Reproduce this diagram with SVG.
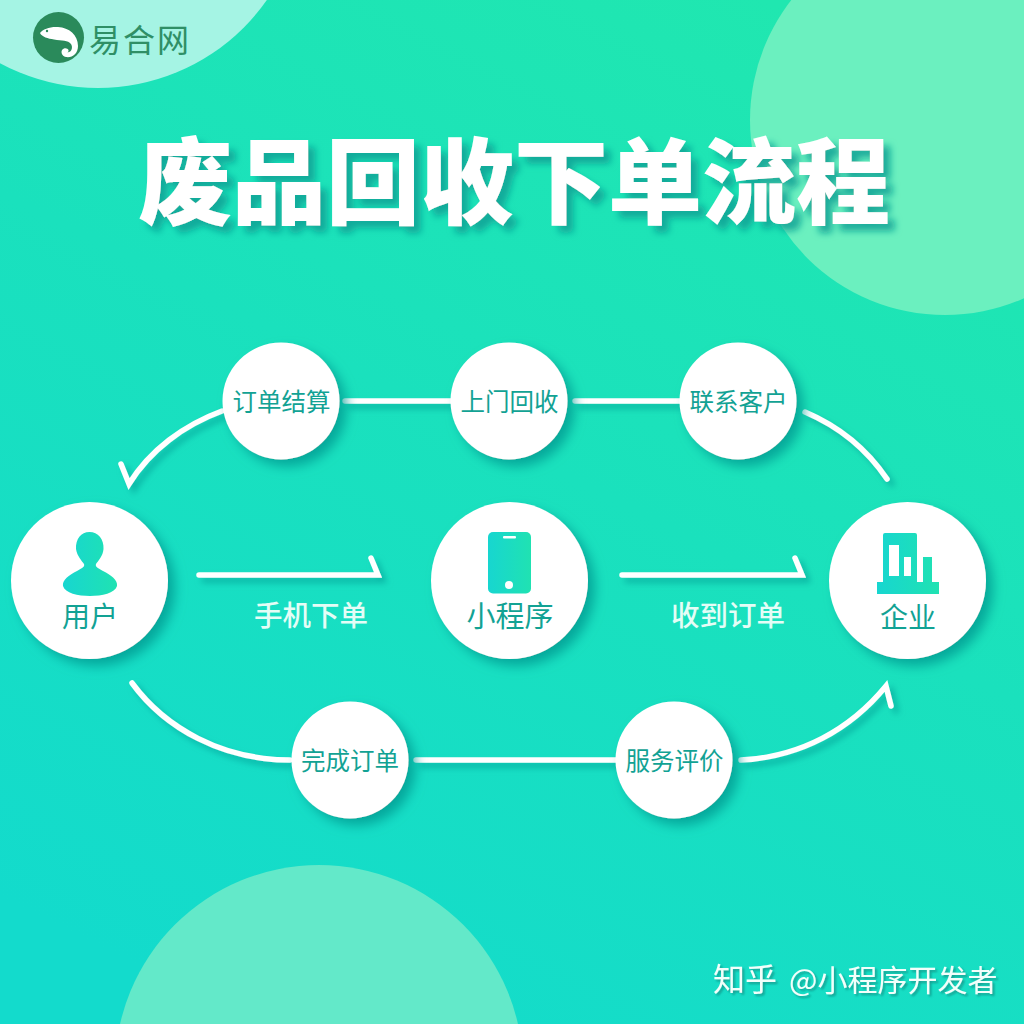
<svg xmlns="http://www.w3.org/2000/svg" width="1024" height="1024" viewBox="0 0 1024 1024">
<style>
.lbl{font-family:"Noto Sans CJK SC","Noto Sans",sans-serif;text-anchor:middle;fill:#12a294;font-weight:400}
.wt{font-family:"Noto Sans CJK SC","Noto Sans",sans-serif;text-anchor:middle;fill:#e4fdf6;font-weight:500}
.conn{fill:none;stroke:#fff;stroke-width:5.500;stroke-linecap:round;stroke-linejoin:miter}
.disc{fill:#fff}
</style>
<defs>
<linearGradient id="bg" x1="0.75" y1="0" x2="0.25" y2="1"><stop offset="0" stop-color="#20e7b0"/><stop offset="0.45" stop-color="#1ae1bd"/><stop offset="1" stop-color="#13dbcc"/></linearGradient>
<linearGradient id="ic" x1="0" y1="0" x2="1" y2="0"><stop offset="0" stop-color="#17d6d0"/><stop offset="1" stop-color="#20e2b2"/></linearGradient>
<filter id="sh" x="-30%" y="-30%" width="170%" height="170%"><feDropShadow dx="7" dy="7" stdDeviation="6" flood-color="#049a92" flood-opacity=".8"/></filter>
<filter id="lsh" x="-10%" y="-60%" width="125%" height="260%"><feDropShadow dx="5" dy="5" stdDeviation="3" flood-color="#049a92" flood-opacity=".6"/></filter>
<filter id="tsh" x="-5%" y="-20%" width="110%" height="150%"><feDropShadow dx="7" dy="7" stdDeviation="3.500" flood-color="#07a094" flood-opacity=".85"/></filter>
<filter id="wsh" x="-5%" y="-20%" width="110%" height="150%"><feDropShadow dx="2" dy="2" stdDeviation="1" flood-color="#07857c" flood-opacity=".7"/></filter>
</defs>
<rect width="1024" height="1024" fill="url(#bg)"/>
<circle cx="98" cy="-118" r="206" fill="#a5f4e4"/>
<circle cx="945" cy="120" r="195" fill="#6bf0bf"/>
<circle cx="319" cy="1069" r="204" fill="#63e9c9"/>
<g id="logo">
<circle cx="58.500" cy="37.500" r="25.500" fill="#2a8a5b"/>
<path d="M40 33C43 29 50 26.500 58 27C69 27.500 78 35 78 46C78 54 72 58 66 57C61 56 60 50 64 48.500C68 47.500 70 51 67.500 52.500C72 52 73 47 71 44C68 40 62 41 54 39.500C48 38.500 42 37 40 33Z" fill="#fff"/>
<circle cx="47" cy="31" r="1.200" fill="#2a8a5b"/>
<text x="140" y="52" font-family="'Noto Sans CJK SC',sans-serif" font-size="32" letter-spacing="2" text-anchor="middle" fill="#2f8f66">易合网</text>
</g>
<text id="title" x="514" y="217" font-family="'Noto Sans CJK SC',sans-serif" font-size="94" font-weight="900" text-anchor="middle" fill="#fff" filter="url(#tsh)">废品回收下单流程</text>
<g id="connectors" filter="url(#lsh)">
<path class="conn" d="M222 411C184 425 150 450 129 484L121 464"/>
<path class="conn" d="M345 401H452"/>
<path class="conn" d="M575 401H682"/>
<path class="conn" d="M805 412C838 426 866 448 887 479"/>
<path class="conn" d="M199 575H378L371 558"/>
<path class="conn" d="M622 575H802L795 558"/>
<path class="conn" d="M132 683C165 728 222 760 290 760"/>
<path class="conn" d="M416 760H616"/>
<path class="conn" d="M741 760C800 757 850 730 886 686L891 706"/>
</g>
<g id="user">
<circle class="disc" cx="89.500" cy="580.500" r="78.500" filter="url(#sh)"/>
<path fill="url(#ic)" d="M89.500 532C98 532 104 539 103.500 549C103 556 98 561 96 564C95 567 98 568 103 571C111 575 118 580 117 586C115 593 102 596 90 596C78 596 65 593 63 586C62 580 69 575 77 571C82 568 85 567 84 564C82 561 77 556 76 549C75.500 539 81 532 89.500 532Z"/>
<text class="lbl" x="90" y="627" font-size="28">用户</text>
</g>
<g id="miniapp">
<circle class="disc" cx="509.500" cy="580.500" r="78.500" filter="url(#sh)"/>
<rect x="488" y="532" width="43" height="61.500" rx="5" fill="url(#ic)"/>
<rect x="503" y="536" width="13" height="2.500" rx="1" fill="#fff"/>
<circle cx="509" cy="585" r="4" fill="#fff"/>
<text class="lbl" x="510" y="627" font-size="29">小程序</text>
</g>
<g id="enterprise">
<circle class="disc" cx="907.500" cy="580.500" r="78.500" filter="url(#sh)"/>
<path fill="url(#ic)" fill-rule="evenodd" d="M885 533H915Q917 533 917 535V582H923V557H932V582H939V594H877V582H883V535Q883 533 885 533ZM889 545V576H899V545ZM904 557V576H911V557Z"/>
<text class="lbl" x="908" y="628" font-size="28">企业</text>
</g>
<g id="n-settle"><circle class="disc" cx="281" cy="401" r="58.500" filter="url(#sh)"/><text class="lbl" x="281.500" y="411" font-size="24.500">订单结算</text></g>
<g id="n-pickup"><circle class="disc" cx="509" cy="401" r="58.500" filter="url(#sh)"/><text class="lbl" x="509.500" y="411" font-size="24.500">上门回收</text></g>
<g id="n-contact"><circle class="disc" cx="738" cy="401" r="58.500" filter="url(#sh)"/><text class="lbl" x="738.500" y="411" font-size="24.500">联系客户</text></g>
<g id="n-done"><circle class="disc" cx="350" cy="760" r="58.500" filter="url(#sh)"/><text class="lbl" x="350" y="770" font-size="24.500">完成订单</text></g>
<g id="n-review"><circle class="disc" cx="674" cy="760" r="58.500" filter="url(#sh)"/><text class="lbl" x="674.500" y="770" font-size="24.500">服务评价</text></g>
<text class="wt" x="311" y="626" font-size="28.500">手机下单</text>
<text class="wt" x="728" y="626" font-size="28.500">收到订单</text>
<text x="713" y="991" font-family="'Noto Sans CJK SC',sans-serif" font-size="32" fill="#f2fffb" filter="url(#wsh)">知乎<tspan x="789" font-size="30">@小程序开发者</tspan></text>
</svg>
